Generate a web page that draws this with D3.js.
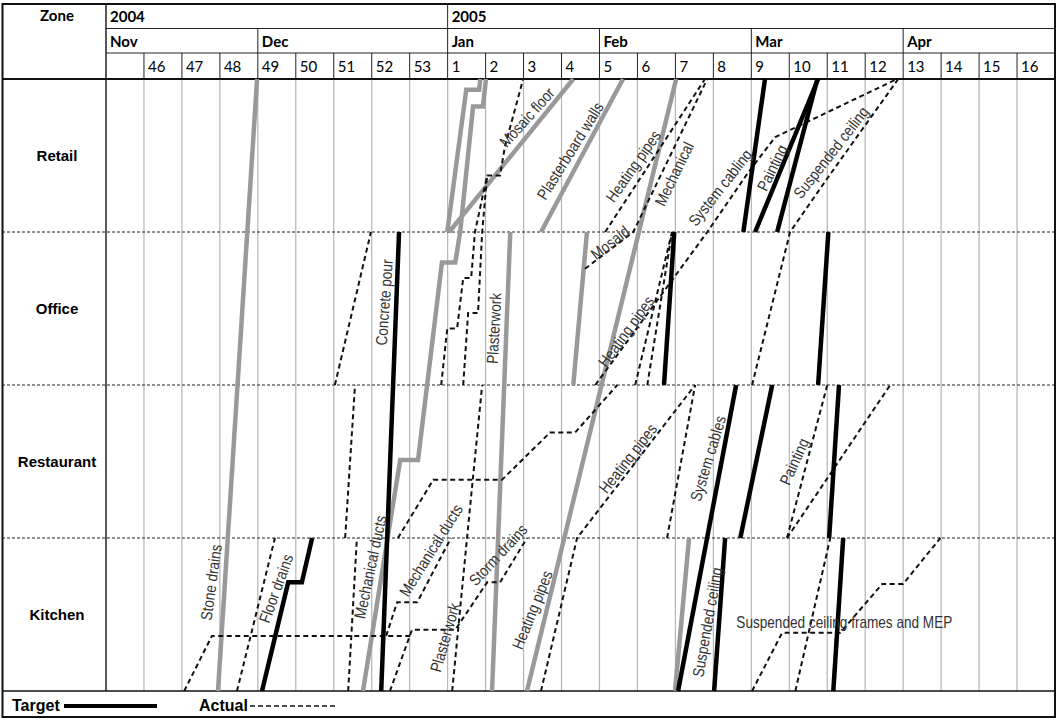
<!DOCTYPE html>
<html>
<head>
<meta charset="utf-8">
<script src="https://cdn.jsdelivr.net/npm/d3@7"></script>
<style>
body { margin: 0; background: #fff; }
svg { display: block; }
</style>
</head>
<body>
<svg class="chart"></svg>
<script>
// week columns, month / year headers
var weeks = ["", "46", "47", "48", "49", "50", "51", "52", "53", "1", "2", "3", "4", "5", "6", "7", "8", "9", "10", "11", "12", "13", "14", "15", "16"];
var months = ["Nov", "Dec", "Jan", "Feb", "Mar", "Apr"];
var monthStart = [0, 4, 9, 13, 17, 21];
var years = ["2004", "2005"];
var yearStart = [0, 9];
var zones = ["Kitchen", "Restaurant", "Office", "Retail"]; // bottom to top

// points are [week column, zone level] ; level 0 = bottom of Kitchen, 4 = top of Retail
var target = [
  [[7.25, 0], [7.72, 3]],
  [[4.11, 0], [4.80, 0.71], [5.16, 0.71], [5.43, 1]],
  [[15.07, 0], [16.60, 2]],
  [[16.02, 0], [16.31, 1]],
  [[19.16, 0], [19.42, 1]],
  [[16.71, 1], [17.55, 2]],
  [[19.05, 1], [19.31, 2]],
  [[18.76, 2], [19.03, 3]],
  [[14.70, 2], [14.97, 3]],
  [[16.79, 3], [17.36, 4]],
  [[17.10, 3], [18.76, 4]],
  [[17.68, 3], [18.74, 4]]
];

var planned = [
  [[2.95, 0], [3.98, 4]],
  [[6.77, 0], [7.75, 1.51], [8.22, 1.51], [8.85, 2.80], [9.20, 2.80], [9.33, 3], [9.67, 3.82], [9.93, 3.82], [10.01, 4]],
  [[8.99, 3], [9.49, 3.93], [9.83, 3.93], [9.86, 4]],
  [[9.04, 3], [12.31, 4]],
  [[11.46, 3], [13.62, 4]],
  [[11.09, 0], [15.02, 4]],
  [[10.17, 0], [10.65, 3]],
  [[12.31, 2], [12.67, 3]],
  [[14.99, 0], [15.36, 1]]
];

var actual = [
  [[2.06, 0], [2.79, 0.36], [8.06, 0.36]],
  [[7.48, 0], [8.06, 0.40], [9.20, 0.40], [10.04, 0.71], [10.38, 0.71], [11.09, 1]],
  [[7.38, 0.36], [7.67, 0.58], [8.20, 0.58], [8.62, 0.78], [9.09, 1]],
  [[3.45, 0], [4.45, 1]],
  [[6.38, 0], [6.61, 1]],
  [[9.12, 0], [9.51, 1], [9.91, 2]],
  [[11.46, 0], [12.41, 1], [15.52, 2]],
  [[17.02, 0], [17.81, 0.38], [19.34, 0.38], [20.45, 0.70], [21.00, 0.70], [21.98, 1]],
  [[18.16, 0], [19.08, 1]],
  [[6.30, 1], [6.56, 2]],
  [[7.69, 1], [8.62, 1.38], [10.43, 1.38], [11.70, 1.69], [12.36, 1.69], [13.47, 2]],
  [[14.78, 1], [15.52, 2]],
  [[17.94, 1], [19.00, 2]],
  [[17.94, 1], [20.66, 2]],
  [[6.03, 2], [6.98, 3]],
  [[8.83, 2], [8.99, 2.37], [9.25, 2.37], [9.41, 2.70], [9.62, 2.70], [9.72, 3], [10.04, 3.37], [10.38, 3.37], [10.51, 3.56], [10.99, 4]],
  [[9.41, 2], [9.54, 2.47], [9.80, 2.47], [9.91, 3], [10.04, 3.37]],
  [[12.89, 2], [15.84, 3], [16.92, 3.39], [17.63, 3.62], [20.84, 4]],
  [[13.94, 2], [14.91, 3]],
  [[14.26, 2], [14.91, 3]],
  [[17.02, 2], [18.02, 3], [19.00, 3.35], [20.87, 4]],
  [[12.62, 2.76], [13.89, 3], [15.84, 4]],
  [[13.15, 3], [15.78, 4]]
];

// activity labels
var labelText = ["Mosaic floor", "Plasterboard walls", "Heating pipes", "Mechanical", "System cabling", "Painting", "Suspended ceiling",
  "Mosaid", "Concrete pour", "Plasterwork", "Heating pipes",
  "Heating pipes", "System cables", "Painting",
  "Stone drains", "Floor drains", "Mechanical ducts", "Mechanical ducts", "Plasterwork", "Storm drains", "Heating pipes", "Suspended ceiling", "Suspended ceiling frames and MEP"];
var labelWeek = [11.09, 12.23, 13.89, 14.97, 16.18, 17.55, 19.10,
  13.28, 7.33, 10.22, 13.70,
  13.75, 15.86, 18.13,
  2.77, 4.48, 6.96, 8.56, 8.93, 10.33, 11.23, 15.84, 19.45];
var labelLevel = [3.75, 3.53, 3.43, 3.38, 3.29, 3.42, 3.52,
  2.93, 2.54, 2.37, 2.35,
  1.52, 1.52, 1.50,
  0.71, 0.67, 0.81, 0.92, 0.35, 0.89, 0.53, 0.45, 0.45];
var labelAngle = [-48, -58, -55, -64, -52, -64, -52,
  -38, -86, -87, -54,
  -52, -73, -66,
  -82, -70, -78, -58, -74, -47, -68, -80, 0];

var width = 1059;
var height = 721;
var svg = d3.select(".chart").attr("width", width).attr("height", height);

var x = d3.scaleLinear().domain([0, weeks.length]).range([106, 1055]);
var y = d3.scaleLinear().domain([0, 4]).range([691, 79]);

var line = d3.line()
    .x(function(d) { return x(d[0]); })
    .y(function(d) { return y(d[1]); });

var headFont = "Lato, 'Liberation Sans', sans-serif";
var armFont = "'Liberation Sans', Arial, sans-serif";

// body grid
svg.append("g").selectAll("line")
    .data(d3.range(1, weeks.length))
    .enter().append("line")
    .attr("x1", function(d) { return x(d); })
    .attr("x2", function(d) { return x(d); })
    .attr("y1", y(4))
    .attr("y2", y(0))
    .attr("stroke", "#b5b5b5")
    .attr("stroke-width", 1.2);

// header verticals
svg.append("g").selectAll("line")
    .data(d3.range(1, weeks.length))
    .enter().append("line")
    .attr("x1", function(d) { return x(d); })
    .attr("x2", function(d) { return x(d); })
    .attr("y1", 53)
    .attr("y2", 79)
    .attr("stroke", "#222");
svg.append("g").selectAll("line")
    .data(monthStart.slice(1))
    .enter().append("line")
    .attr("x1", function(d) { return x(d); })
    .attr("x2", function(d) { return x(d); })
    .attr("y1", 28.5)
    .attr("y2", 53)
    .attr("stroke", "#222");
svg.append("g").selectAll("line")
    .data(yearStart.slice(1))
    .enter().append("line")
    .attr("x1", function(d) { return x(d); })
    .attr("x2", function(d) { return x(d); })
    .attr("y1", 4)
    .attr("y2", 28.5)
    .attr("stroke", "#222");

svg.append("line").attr("x1", x(0)).attr("x2", x(0)).attr("y1", 4).attr("y2", y(0)).attr("stroke", "#222").attr("stroke-width", 1.5);
svg.append("line").attr("x1", x(0)).attr("x2", 1055).attr("y1", 28.5).attr("y2", 28.5).attr("stroke", "#222");
svg.append("line").attr("x1", x(0)).attr("x2", 1055).attr("y1", 53).attr("y2", 53).attr("stroke", "#222");
svg.append("line").attr("x1", 2).attr("x2", 1055).attr("y1", y(4)).attr("y2", y(4)).attr("stroke", "#111").attr("stroke-width", 2);

// zone separators
svg.append("g").selectAll("line")
    .data([1, 2, 3])
    .enter().append("line")
    .attr("x1", 2)
    .attr("x2", 1055)
    .attr("y1", function(d) { return y(d); })
    .attr("y2", function(d) { return y(d); })
    .attr("stroke", "#222")
    .attr("stroke-width", 1)
    .attr("stroke-dasharray", "3,2");

svg.append("line").attr("x1", 2).attr("x2", 1055).attr("y1", y(0)).attr("y2", y(0)).attr("stroke", "#111").attr("stroke-width", 1.5);

// outer frame
svg.append("rect")
    .attr("x", 2.5).attr("y", 4).attr("width", 1052.5).attr("height", 713)
    .attr("fill", "none").attr("stroke", "#111").attr("stroke-width", 2);

// header text
svg.append("text").attr("x", 57).attr("y", 21).attr("text-anchor", "middle")
    .style("font-family", headFont).style("font-weight", "bold").style("font-size", "15px").text("Zone");

svg.append("g").selectAll("text")
    .data(years)
    .enter().append("text")
    .attr("x", function(d, i) { return x(yearStart[i]) + 4; })
    .attr("y", 22)
    .style("font-family", headFont).style("font-weight", "bold").style("font-size", "15px")
    .text(function(d) { return d; });

svg.append("g").selectAll("text")
    .data(months)
    .enter().append("text")
    .attr("x", function(d, i) { return x(monthStart[i]) + 4; })
    .attr("y", 47)
    .style("font-family", headFont).style("font-weight", "bold").style("font-size", "15px")
    .text(function(d) { return d; });

svg.append("g").selectAll("text")
    .data(weeks)
    .enter().append("text")
    .attr("x", function(d, i) { return x(i) + 4; })
    .attr("y", 72)
    .style("font-family", headFont).style("font-size", "15px")
    .text(function(d) { return d; });

// zone names
svg.append("g").selectAll("text")
    .data(zones)
    .enter().append("text")
    .attr("x", 57)
    .attr("y", function(d, i) { return y(i + 0.5) + 5; })
    .attr("text-anchor", "middle")
    .style("font-family", armFont).style("font-weight", "bold").style("font-size", "15px")
    .text(function(d) { return d; });

// series
svg.append("g").selectAll("path")
    .data(planned)
    .enter().append("path")
    .attr("d", line)
    .attr("fill", "none")
    .attr("stroke", "#999")
    .attr("stroke-width", 4.5);

svg.append("g").selectAll("path")
    .data(actual)
    .enter().append("path")
    .attr("d", line)
    .attr("fill", "none")
    .attr("stroke", "#111")
    .attr("stroke-width", 2)
    .attr("stroke-dasharray", "5,3.5");

svg.append("g").selectAll("path")
    .data(target)
    .enter().append("path")
    .attr("d", line)
    .attr("fill", "none")
    .attr("stroke", "#000")
    .attr("stroke-width", 4.5);

// activity labels, condensed along the reading direction
svg.append("g").selectAll("text")
    .data(labelText)
    .enter().append("text")
    .attr("transform", function(d, i) {
      return "translate(" + x(labelWeek[i]) + "," + y(labelLevel[i]) + ") rotate(" + labelAngle[i] + ") scale(0.85,1)";
    })
    .attr("text-anchor", "middle")
    .attr("dy", "0.35em")
    .attr("fill", "#333")
    .style("font-family", armFont).style("font-size", "16px")
    .text(function(d) { return d; });

// legend
svg.append("text").attr("x", 12).attr("y", 711)
    .style("font-family", armFont).style("font-weight", "bold").style("font-size", "16px").text("Target");
svg.append("line").attr("x1", 64).attr("x2", 157).attr("y1", 706).attr("y2", 706)
    .attr("stroke", "#000").attr("stroke-width", 4);
svg.append("text").attr("x", 199).attr("y", 711)
    .style("font-family", armFont).style("font-weight", "bold").style("font-size", "16px").text("Actual");
svg.append("line").attr("x1", 250).attr("x2", 336).attr("y1", 706).attr("y2", 706)
    .attr("stroke", "#111").attr("stroke-width", 1.5).attr("stroke-dasharray", "5,3");
</script>
</body>
</html>
